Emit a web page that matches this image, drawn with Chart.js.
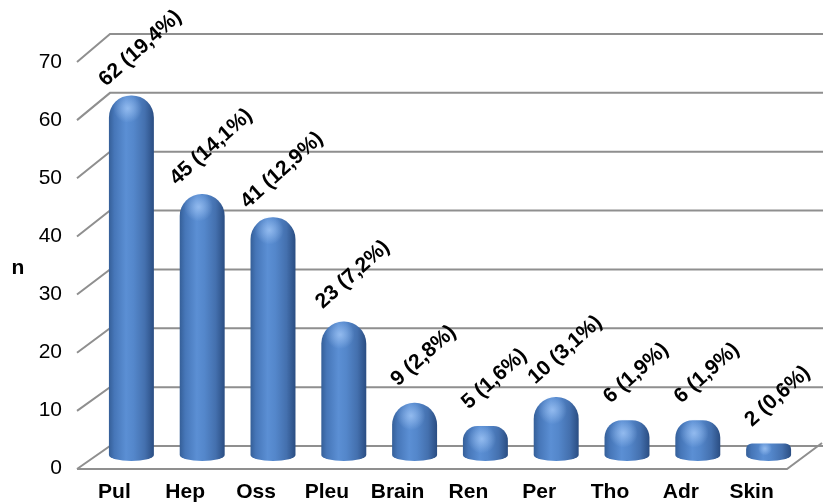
<!DOCTYPE html>
<html>
<head>
<meta charset="utf-8">
<script src="https://cdn.jsdelivr.net/npm/chart.js@4.4.1/dist/chart.umd.min.js"></script>
<style>
  html, body { margin: 0; padding: 0; background: #fff; }
  #wrap { width: 823px; height: 504px; }
</style>
</head>
<body>
<div id="wrap"><canvas id="c" width="823" height="504"></canvas></div>
<script>
// Metastasis sites: counts and their share of all sites
const categories = ['Pul', 'Hep', 'Oss', 'Pleu', 'Brain', 'Ren', 'Per', 'Tho', 'Adr', 'Skin'];
const counts = [62, 45, 41, 23, 9, 5, 10, 6, 6, 2];
const percents = ['19,4', '14,1', '12,9', '7,2', '2,8', '1,6', '3,1', '1,9', '1,9', '0,6'];
const yTicks = [0, 10, 20, 30, 40, 50, 60, 70];
const yTitle = 'n';

const FONT = '"Liberation Sans", Arial, sans-serif';
const BAR_FRACTION = 0.635;
const GRID_COLOR = '#8f8f8f';

// horizontal shading of a cylinder spanning [left, right]
function cylinderGradient(ctx, left, right) {
  const g = ctx.createLinearGradient(left, 0, right, 0);
  g.addColorStop(0.00, '#355f98');
  g.addColorStop(0.12, '#4676b8');
  g.addColorStop(0.38, '#5b8fd4');
  g.addColorStop(0.55, '#5487cb');
  g.addColorStop(0.80, '#4470ae');
  g.addColorStop(1.00, '#2a4d82');
  return g;
}

function barGradient(context) {
  const chart = context.chart;
  const area = chart.chartArea;
  if (!area) return '#4f81bd';
  const xs = chart.scales.x;
  const cx = xs.getPixelForValue(context.dataIndex);
  const w = (area.right - area.left) / categories.length * BAR_FRACTION;
  return cylinderGradient(chart.ctx, cx - w / 2, cx + w / 2);
}

// back wall, left wall edges and floor in oblique projection
const wallPlugin = {
  id: 'wall',
  beforeDatasetsDraw(chart) {
    const ctx = chart.ctx;
    const ys = chart.scales.y;
    const area = chart.chartArea;
    const frontX = area.left - 19;
    const backX = area.left + 14;
    const rightX = chart.width;
    const front = v => ys.getPixelForValue(v) + 14 - v / ys.max;
    const back = v => ys.getPixelForValue(v) - 9 - 6 * v / ys.max;

    ctx.save();
    ctx.strokeStyle = GRID_COLOR;
    ctx.lineWidth = 2;
    ctx.lineJoin = 'miter';
    yTicks.forEach(v => {
      ctx.beginPath();
      ctx.moveTo(frontX, front(v));
      ctx.lineTo(backX, back(v));
      ctx.lineTo(rightX, back(v));
      ctx.stroke();
    });
    // floor front edge and right edge
    ctx.beginPath();
    ctx.moveTo(frontX, front(0));
    ctx.lineTo(area.right - 17, front(0));
    ctx.lineTo(rightX - 1, back(0) - 3);
    ctx.stroke();

    // y-axis title, upright
    ctx.fillStyle = '#000';
    ctx.font = 'bold 21px ' + FONT;
    ctx.textAlign = 'center';
    ctx.textBaseline = 'alphabetic';
    ctx.fillText(yTitle, 18, (area.top + area.bottom) / 2 + 22);

    // rounded bottoms of the cylinders
    const meta = chart.getDatasetMeta(0);
    meta.data.forEach(el => {
      const w = el.width;
      ctx.beginPath();
      ctx.ellipse(el.x, el.base, w / 2, 6, 0, 0, Math.PI);
      ctx.closePath();
      ctx.fillStyle = cylinderGradient(ctx, el.x - w / 2, el.x + w / 2);
      ctx.fill();
    });
    ctx.restore();
  },
  afterDatasetsDraw(chart) {
    const ctx = chart.ctx;
    const meta = chart.getDatasetMeta(0);
    ctx.save();
    // soft highlight on each dome
    meta.data.forEach(el => {
      const w = el.width;
      const h = el.base - el.y;
      const hy = el.y + Math.min(13, h * 0.45);
      const hx = el.x - w * 0.08;
      const r = Math.min(w * 0.32, Math.max(h * 0.6, 5));
      const g = ctx.createRadialGradient(hx, hy, 0, hx, hy, r);
      g.addColorStop(0, 'rgba(170,205,250,0.7)');
      g.addColorStop(1, 'rgba(170,205,250,0)');
      ctx.fillStyle = g;
      ctx.beginPath();
      ctx.arc(hx, hy, r, 0, Math.PI * 2);
      ctx.fill();
    });

    // rotated value labels above each bar
    ctx.fillStyle = '#000';
    ctx.font = 'bold 21px ' + FONT;
    ctx.textAlign = 'center';
    ctx.textBaseline = 'middle';
    meta.data.forEach((el, i) => {
      ctx.save();
      ctx.translate(el.x + 9, el.y - 47);
      ctx.rotate(-42 * Math.PI / 180);
      ctx.fillText(counts[i] + ' (' + percents[i] + '%)', 0, 0);
      ctx.restore();
    });
    ctx.restore();
  }
};

new Chart(document.getElementById('c'), {
  type: 'bar',
  data: {
    labels: categories,
    datasets: [{
      data: counts,
      backgroundColor: barGradient,
      borderWidth: 0,
      borderSkipped: 'start',
      borderRadius: { topLeft: 22, topRight: 22, bottomLeft: 0, bottomRight: 0 },
      barPercentage: BAR_FRACTION,
      categoryPercentage: 1
    }]
  },
  options: {
    responsive: false,
    animation: false,
    devicePixelRatio: 1,
    layout: { padding: { top: 49, right: 19, bottom: 0, left: 0 } },
    plugins: {
      legend: { display: false },
      tooltip: { enabled: false }
    },
    scales: {
      x: {
        grid: { display: false, drawTicks: false },
        border: { display: false },
        ticks: {
          color: '#000',
          font: { family: FONT, size: 21, weight: 'bold' },
          labelOffset: -17,
          padding: 25,
          maxRotation: 0,
          autoSkip: false
        },
        afterFit(scale) { scale.height = 49; }
      },
      y: {
        min: 0,
        max: 70,
        afterBuildTicks(scale) { scale.ticks = yTicks.map(v => ({ value: v })); },
        grid: { display: false, drawTicks: false },
        border: { display: false },
        ticks: {
          color: '#000',
          font: { family: FONT, size: 21 },
          labelOffset: 13.5,
          padding: 34
        },
        afterFit(scale) { scale.width = 96; }
      }
    }
  },
  plugins: [wallPlugin]
});
</script>
</body>
</html>
